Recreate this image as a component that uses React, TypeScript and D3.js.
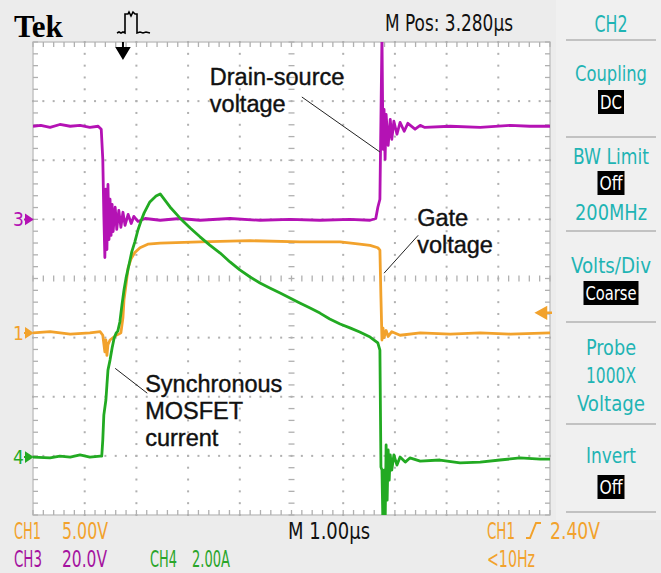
import React, { useRef, useEffect } from "react";
import * as d3 from "d3";

// time base: µs (1 µs/div, 10 div)
// CH3 drain-source voltage (V), 20 V/div
const ch3Trace: [number, number][] = [
  [0, 31.5], [0.15, 31.8], [0.33, 31.1], [0.52, 32.1], [0.72, 31.5], [0.91, 31.8],
  [1.1, 31.1], [1.26, 31.5], [1.32, 30.5], [1.35, 20.3], [1.37, 1.7], [1.39, -12.9],
  [1.41, 10.2], [1.43, -10.2], [1.45, 11.8], [1.47, -6.8], [1.49, 6.8], [1.51, -5.4],
  [1.53, 5.1], [1.55, -4.1], [1.59, 4.1], [1.62, -3.4], [1.66, 3.0], [1.7, -2.7],
  [1.74, 2.4], [1.78, -2.0], [1.84, 1.7], [1.9, -1.4], [1.95, 1.0], [2.03, -0.7],
  [2.17, 0.3], [2.46, -0.3], [2.84, 0.3], [3.23, -0.3], [3.81, 0.3], [4.39, -0.3],
  [4.97, 0], [5.55, -0.3], [6.13, 0], [6.52, -0.3], [6.63, 0.3], [6.67, 4.1],
  [6.71, 6.8], [6.75, 62], [6.77, 23.7], [6.79, 37.2], [6.81, 20.3], [6.83, 35.5],
  [6.87, 25], [6.91, 33.8], [6.94, 27.1], [6.98, 33.2], [7.04, 28.8], [7.1, 32.8],
  [7.18, 29.8], [7.25, 32.5], [7.39, 30.5], [7.49, 31.8], [7.58, 31.1], [8.07, 31.5],
  [8.65, 31.1], [9.23, 31.8], [9.61, 31.5], [10, 31.5],
];

// CH1 gate voltage (V), 5 V/div
const ch1Trace: [number, number][] = [
  [0, 0], [0.33, 0.1], [0.72, -0.1], [1.1, 0], [1.3, 0.1], [1.35, -0.2], [1.39, -1.6],
  [1.41, -0.6], [1.43, -1.9], [1.45, -1.0], [1.49, -0.6], [1.55, -0.4], [1.61, -0.2],
  [1.66, -0.1], [1.7, 0], [1.74, 1.3], [1.76, 2.8], [1.8, 4.1], [1.84, 5.5], [1.9, 6.3],
  [1.97, 6.8], [2.07, 7.2], [2.22, 7.5], [2.46, 7.6], [3.23, 7.7], [4.2, 7.8],
  [5.16, 7.7], [5.94, 7.7], [6.32, 7.5], [6.52, 7.4], [6.67, 7.2], [6.71, 7.0],
  [6.73, 3.0], [6.75, -0.6], [6.77, 0.4], [6.79, -0.4], [6.83, 0.2], [6.87, -0.3],
  [6.94, 0.1], [7.1, -0.2], [7.49, 0], [8.07, -0.1], [8.65, 0], [9.23, -0.1], [10, 0],
];

// CH4 synchronous MOSFET current (A), 2 A/div
const ch4Trace: [number, number][] = [
  [0, 0], [0.33, -0.03], [0.52, 0.03], [0.72, 0], [0.91, 0.07], [1.1, 0], [1.3, 0.03],
  [1.33, 0.03], [1.35, 0.58], [1.37, 1.42], [1.41, 1.93], [1.43, 2.44], [1.45, 2.94],
  [1.49, 3.28], [1.53, 3.69], [1.57, 4.03], [1.61, 4.2], [1.64, 4.26], [1.68, 4.57],
  [1.72, 5.14], [1.76, 5.65], [1.8, 6.06], [1.86, 6.53], [1.91, 6.94], [1.97, 7.28],
  [2.03, 7.68], [2.09, 7.99], [2.15, 8.26], [2.21, 8.46], [2.26, 8.63], [2.32, 8.73],
  [2.38, 8.83], [2.46, 8.9], [2.65, 8.46], [2.84, 8.09], [3.04, 7.75], [3.23, 7.45],
  [3.42, 7.17], [3.62, 6.9], [3.81, 6.6], [4.0, 6.33], [4.2, 6.09], [4.39, 5.89],
  [4.58, 5.72], [4.78, 5.55], [4.97, 5.38], [5.16, 5.21], [5.36, 5.04], [5.55, 4.87],
  [5.74, 4.67], [5.94, 4.5], [6.13, 4.37], [6.32, 4.23], [6.52, 4.06], [6.67, 3.86],
  [6.71, 3.62], [6.73, -0.34], [6.75, -0.44], [6.77, -2.47], [6.79, -0.44], [6.81, -2.47],
  [6.83, 0.41], [6.85, -1.46], [6.87, 0.24], [6.89, -0.78], [6.91, 0.07], [6.94, -0.44],
  [6.98, 0.07], [7.04, -0.27], [7.1, 0], [7.2, -0.17], [7.29, -0.03], [7.49, -0.14],
  [7.87, -0.1], [8.26, -0.2], [8.65, -0.17], [9.03, -0.1], [9.42, -0.03], [9.81, -0.07],
  [10, -0.07],
];

// ground offsets (div) and scales per channel
const channelNames = ["1", "3", "4"];
const channelScales = [5, 20, 2];
const channelOffsets = [-0.92, 1.0, -3.02];
const channelColors = ["#f2a22c", "#b412b4", "#22aa22"];

// annotations: text lines, text anchor (µs, div), leader from -> to (µs, div)
const annotLines = [["Drain-source", "voltage"], ["Gate", "voltage"], ["Synchronous", "MOSFET", "current"]];
const annotText: [number, number][] = [[3.42, 3.27], [7.43, 0.89], [2.17, -1.92]];
const annotLeader: [number, number, number, number][] = [
  [5.2, 3.07, 6.71, 2.14],
  [7.45, 0.73, 6.79, 0.09],
  [1.59, -1.52, 2.21, -1.94],
];

// side menu
const menuItems = [
  { y: 81, label: "Coupling" },
  { y: 164, label: "BW Limit" },
  { y: 220, label: "200MHz" },
  { y: 273, label: "Volts/Div" },
  { y: 355, label: "Probe" },
  { y: 383, label: "1000X" },
  { y: 411, label: "Voltage" },
  { y: 463, label: "Invert" },
];
const menuBoxes = [
  { y: 90, w: 26, label: "DC" },
  { y: 171, w: 27, label: "Off" },
  { y: 281, w: 55, label: "Coarse" },
  { y: 475, w: 27, label: "Off" },
];
const menuRules = [40, 137, 231, 322, 424, 512];

const triggerTime = 1.74;
const triggerLevelDiv = -0.58;

const W = 661;
const H = 573;
const NARROW = "'Liberation Sans Narrow','DejaVu Sans Condensed','Roboto Condensed',sans-serif";
const TEAL = "#1fb4b4";

const Scope: React.FC = () => {
  const ref = useRef<SVGSVGElement | null>(null);

  useEffect(() => {
    if (!ref.current) return;
    const svg = d3.select(ref.current);
    svg.selectAll("*").remove();
    svg.attr("width", W).attr("height", H);

    const x = d3.scaleLinear().domain([0, 10]).range([33, 550]);
    const y = d3.scaleLinear().domain([-4, 4]).range([515, 42]);

    svg.append("rect").attr("width", W).attr("height", H).attr("fill", "#ececec");
    svg.append("rect").attr("x", 556).attr("y", 0).attr("width", W - 556).attr("height", 520).attr("fill", "#f0f0f0");

    // graticule
    svg
      .append("rect")
      .attr("x", x(0))
      .attr("y", y(4))
      .attr("width", x(10) - x(0))
      .attr("height", y(-4) - y(4))
      .attr("fill", "#ffffff")
      .attr("stroke", "#c4c4c4")
      .attr("stroke-width", 1.5);

    const grid = svg.append("g").attr("fill", "#b0b0b0").attr("stroke", "#b0b0b0");
    const xMinor = d3.range(0, 10.001, 0.2);
    const yMinor = d3.range(-4, 4.001, 0.2);
    // dotted major lines
    d3.range(1, 10).forEach((i) => {
      if (i === 5) return;
      yMinor.forEach((v) => {
        grid.append("rect").attr("x", x(i) - 1).attr("y", y(v) - 1).attr("width", 2).attr("height", 2).attr("stroke", "none");
      });
    });
    d3.range(-3, 4).forEach((j) => {
      if (j === 0) return;
      xMinor.forEach((t) => {
        grid.append("rect").attr("x", x(t) - 1).attr("y", y(j) - 1).attr("width", 2).attr("height", 2).attr("stroke", "none");
      });
    });
    // center crosshair and edge ticks
    xMinor.forEach((t) => {
      grid.append("line").attr("x1", x(t)).attr("x2", x(t)).attr("y1", y(0) - 3).attr("y2", y(0) + 3).attr("stroke-width", 1.3);
      grid.append("line").attr("x1", x(t)).attr("x2", x(t)).attr("y1", y(4)).attr("y2", y(4) + 5).attr("stroke-width", 1.3);
      grid.append("line").attr("x1", x(t)).attr("x2", x(t)).attr("y1", y(-4)).attr("y2", y(-4) - 5).attr("stroke-width", 1.3);
    });
    yMinor.forEach((v) => {
      grid.append("line").attr("x1", x(5) - 3).attr("x2", x(5) + 3).attr("y1", y(v)).attr("y2", y(v)).attr("stroke-width", 1.3);
      grid.append("line").attr("x1", x(0)).attr("x2", x(0) + 5).attr("y1", y(v)).attr("y2", y(v)).attr("stroke-width", 1.3);
      grid.append("line").attr("x1", x(10)).attr("x2", x(10) - 5).attr("y1", y(v)).attr("y2", y(v)).attr("stroke-width", 1.3);
    });

    // traces
    svg
      .append("clipPath")
      .attr("id", "scr")
      .append("rect")
      .attr("x", x(0))
      .attr("y", y(4))
      .attr("width", x(10) - x(0))
      .attr("height", y(-4) - y(4));
    const traces = svg.append("g").attr("clip-path", "url(#scr)");
    const drawTrace = (data: [number, number][], ch: number) => {
      const line = d3
        .line<[number, number]>()
        .x((d) => x(d[0]))
        .y((d) => y(channelOffsets[ch] + d[1] / channelScales[ch]));
      traces
        .append("path")
        .attr("d", line(data))
        .attr("fill", "none")
        .attr("stroke", channelColors[ch])
        .attr("stroke-width", 2.8)
        .attr("stroke-linejoin", "round");
    };
    drawTrace(ch3Trace, 1);
    drawTrace(ch1Trace, 0);
    drawTrace(ch4Trace, 2);

    // ground markers
    channelNames.forEach((n, i) => {
      const gy = y(channelOffsets[i]);
      svg
        .append("text")
        .attr("x", 13)
        .attr("y", gy + 7)
        .attr("font-family", NARROW)
        .attr("font-size", 19)
        .attr("fill", channelColors[i])
        .text(n);
      svg
        .append("path")
        .attr("d", `M24,${gy} L30,${gy} M26,${gy - 4} L32,${gy} L26,${gy + 4} Z`)
        .attr("stroke", channelColors[i])
        .attr("stroke-width", 2)
        .attr("fill", channelColors[i]);
    });

    // trigger level arrow
    const ty = y(triggerLevelDiv);
    svg
      .append("path")
      .attr("d", `M537,${ty} L546,${ty - 5} L546,${ty + 5} Z M544,${ty} L552,${ty}`)
      .attr("fill", "#f2a22c")
      .attr("stroke", "#f2a22c")
      .attr("stroke-width", 2.5);

    // trigger position arrow + pulse icon
    const tx = x(triggerTime);
    svg
      .append("path")
      .attr("d", `M${tx},42 L${tx},49 M${tx - 6},48 L${tx + 6},48 L${tx},58 Z`)
      .attr("stroke", "#000")
      .attr("stroke-width", 2)
      .attr("fill", "#000");
    svg
      .append("path")
      .attr("d", "M117,33 L119,32 L121,33 L123,32 L125,33 L125,14 L128,14 L129,12 L131,16 L133,12 L135,14 L137,14 L137,33 L140,32 L143,33 L146,32 L150,33")
      .attr("stroke", "#000")
      .attr("stroke-width", 1.6)
      .attr("fill", "none");

    // annotations
    annotLines.forEach((lines, i) => {
      const [t0, v0] = annotText[i];
      lines.forEach((s, k) => {
        svg
          .append("text")
          .attr("x", x(t0))
          .attr("y", y(v0) + k * 27)
          .attr("font-family", "'Liberation Sans',Arial,sans-serif")
          .attr("font-size", 23.5)
          .attr("fill", "#111")
          .attr("stroke", "#111")
          .attr("stroke-width", 0.4)
          .text(s);
      });
      const [a, b, c, d] = annotLeader[i];
      svg
        .append("line")
        .attr("x1", x(a))
        .attr("y1", y(b))
        .attr("x2", x(c))
        .attr("y2", y(d))
        .attr("stroke", "#222")
        .attr("stroke-width", 1);
    });

    // header
    svg
      .append("text")
      .attr("x", 14)
      .attr("y", 37)
      .attr("font-family", "'Liberation Serif','DejaVu Serif',serif")
      .attr("font-weight", "bold")
      .attr("font-size", 31)
      .text("Tek");

    const scopeText = (
      tx0: number,
      ty0: number,
      s: string,
      color: string,
      len: number,
      anchor = "start",
      size = 23
    ) =>
      svg
        .append("text")
        .attr("x", tx0)
        .attr("y", ty0)
        .attr("text-anchor", anchor)
        .attr("font-family", NARROW)
        .attr("font-size", size)
        .attr("fill", color)
        .attr("textLength", len)
        .attr("lengthAdjust", "spacingAndGlyphs")
        .text(s);

    scopeText(385, 31, "M Pos: 3.280µs", "#111", 128);

    // side menu
    scopeText(611, 32, "CH2", TEAL, 33, "middle");
    menuRules.forEach((ry) => {
      svg.append("rect").attr("x", 566).attr("y", ry - 1).attr("width", 90).attr("height", 2).attr("fill", "#c2c2c2");
    });
    const itemLen: Record<string, number> = {
      Coupling: 72, "BW Limit": 76, "200MHz": 72, "Volts/Div": 80, Probe: 50, "1000X": 50, Voltage: 68, Invert: 50,
    };
    menuItems.forEach((m) => scopeText(611, m.y, m.label, TEAL, itemLen[m.label], "middle", 21));
    menuBoxes.forEach((b) => {
      svg.append("rect").attr("x", 611 - b.w / 2).attr("y", b.y).attr("width", b.w).attr("height", 24).attr("fill", "#000");
      scopeText(611, b.y + 19, b.label, "#fff", b.w - 4, "middle", 20);
    });

    // footer
    const OR = "#f2a22c";
    scopeText(14, 539, "CH1", OR, 27);
    scopeText(62, 539, "5.00V", OR, 46);
    scopeText(14, 567, "CH3", "#a5139f", 28);
    scopeText(62, 567, "20.0V", "#a5139f", 45);
    scopeText(150, 567, "CH4", "#2aa52a", 27);
    scopeText(192, 567, "2.00A", "#2aa52a", 38);
    scopeText(288, 539, "M 1.00µs", "#111", 82);
    scopeText(487, 539, "CH1", OR, 28);
    svg
      .append("path")
      .attr("d", "M526,538 L530,538 L536,523 L541,523")
      .attr("stroke", OR)
      .attr("stroke-width", 2)
      .attr("fill", "none");
    scopeText(550, 539, "2.40V", OR, 50);
    scopeText(487, 567, "<10Hz", OR, 48);
  }, []);

  return <svg ref={ref} style={{ position: "absolute", left: 0, top: 0 }}></svg>;
};

export default function App() {
  return <Scope />;
}
